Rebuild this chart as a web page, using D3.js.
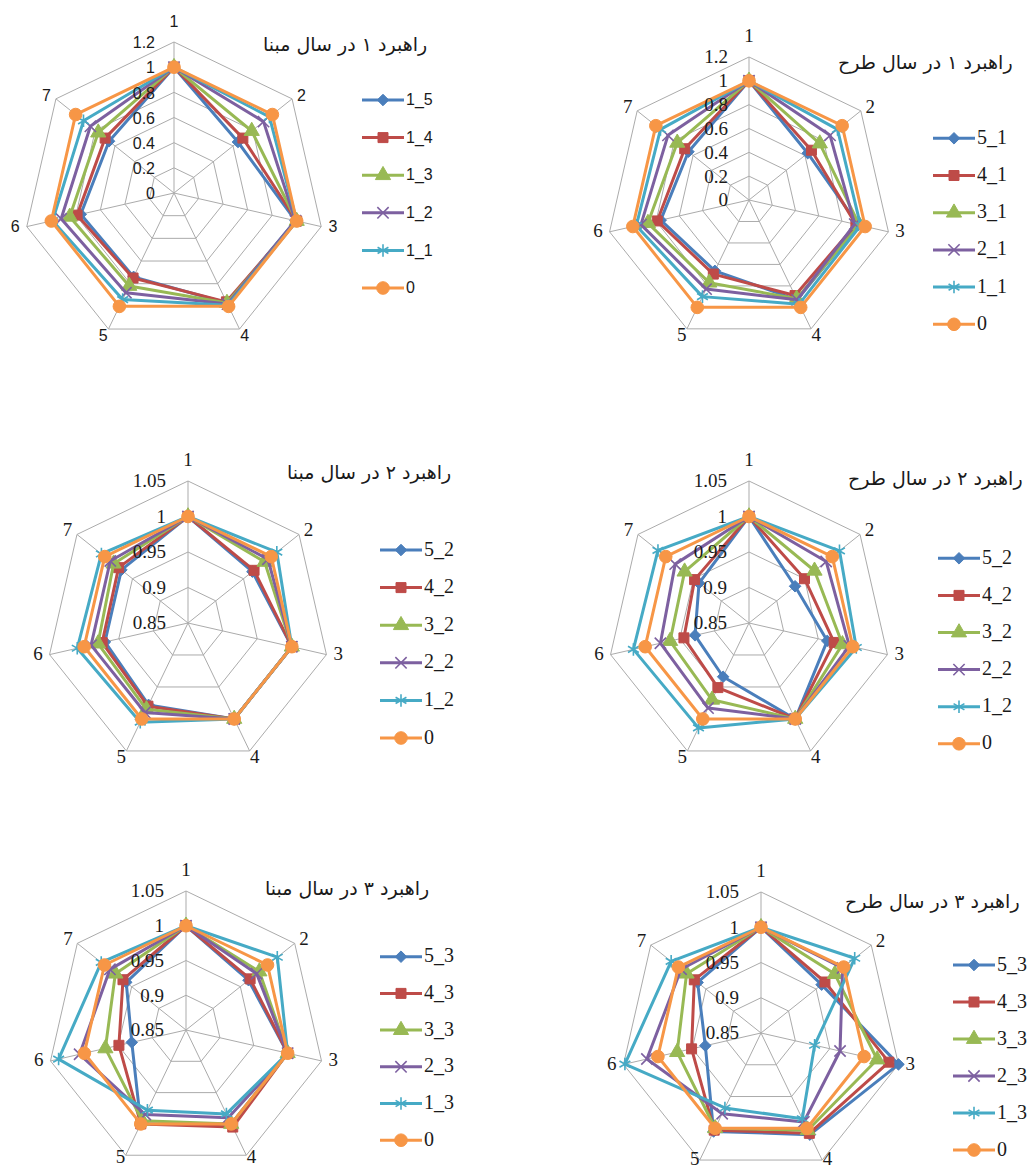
<!DOCTYPE html>
<html>
<head>
<meta charset="utf-8">
<script src="https://cdn.jsdelivr.net/npm/d3@7"></script>
<style>
  body { margin: 0; background: #ffffff; }
  svg { display: block; }
</style>
</head>
<body>
<svg id="fig" width="1036" height="1171"></svg>
<script>
// ---- data ----------------------------------------------------------------
const axisLabels = ["1", "2", "3", "4", "5", "6", "7"];

const ticksWide = [0, 0.2, 0.4, 0.6, 0.8, 1, 1.2];
const tickTextWide = ["0", "0.2", "0.4", "0.6", "0.8", "1", "1.2"];
const ticksNarrow = [0.85, 0.9, 0.95, 1, 1.05];
const tickTextNarrow = ["0.85", "0.9", "0.95", "1", "1.05"];

const titles = [
  "راهبرد ۱ در سال مبنا",
  "راهبرد ۱ در سال طرح",
  "راهبرد ۲ در سال مبنا",
  "راهبرد ۲ در سال طرح",
  "راهبرد ۳ در سال مبنا",
  "راهبرد ۳ در سال طرح"
];

const names1a = ["1_5", "1_4", "1_3", "1_2", "1_1", "0"];
const names1b = ["5_1", "4_1", "3_1", "2_1", "1_1", "0"];
const names2 = ["5_2", "4_2", "3_2", "2_2", "1_2", "0"];
const names3 = ["5_3", "4_3", "3_3", "2_3", "1_3", "0"];

// strategy 1, base year (rows: 5, 4, 3, 2, 1, 0)
const values1a = [
  [1.00, 0.65, 0.99, 0.97, 0.74, 0.76, 0.66],
  [1.00, 0.70, 1.00, 0.96, 0.75, 0.79, 0.70],
  [1.00, 0.79, 1.00, 0.97, 0.82, 0.85, 0.77],
  [1.00, 0.91, 0.99, 0.98, 0.88, 0.92, 0.85],
  [1.00, 0.97, 1.00, 0.99, 0.94, 0.99, 0.92],
  [1.00, 1.00, 1.00, 1.00, 1.00, 1.00, 1.00]
];
// strategy 1, plan year
const values1b = [
  [1.00, 0.63, 0.94, 0.93, 0.66, 0.76, 0.65],
  [1.00, 0.67, 0.92, 0.89, 0.69, 0.79, 0.69],
  [1.00, 0.76, 0.95, 0.92, 0.77, 0.87, 0.77],
  [1.00, 0.87, 0.91, 0.93, 0.83, 0.93, 0.87],
  [1.00, 0.95, 0.96, 0.97, 0.90, 0.97, 0.95],
  [1.00, 1.00, 1.00, 1.00, 1.00, 1.00, 1.00]
];
// strategy 2, base year
const values2a = [
  [1.000, 0.966, 1.000, 1.000, 0.978, 0.970, 0.970],
  [1.000, 0.969, 1.000, 1.000, 0.980, 0.974, 0.975],
  [1.000, 0.988, 1.000, 1.000, 0.985, 0.980, 0.984],
  [1.000, 0.994, 1.000, 1.000, 0.990, 0.990, 0.990],
  [1.000, 1.010, 1.000, 1.000, 1.005, 1.010, 1.006],
  [1.000, 1.000, 1.000, 1.000, 1.000, 1.000, 1.000]
];
// strategy 2, plan year
const values2b = [
  [1.000, 0.933, 0.963, 1.000, 0.934, 0.928, 0.940],
  [1.000, 0.950, 0.973, 1.000, 0.951, 0.944, 0.948],
  [1.000, 0.968, 0.985, 1.000, 0.970, 0.964, 0.966],
  [1.000, 0.989, 0.995, 1.000, 0.983, 0.978, 0.983],
  [1.000, 1.013, 1.005, 1.000, 1.014, 1.017, 1.014],
  [1.000, 1.000, 1.000, 1.000, 1.000, 1.000, 1.000]
];
// strategy 3, base year
const values3a = [
  [1.000, 0.965, 1.000, 1.000, 1.000, 0.930, 0.960],
  [1.000, 0.968, 1.000, 1.005, 1.000, 0.949, 0.966],
  [1.000, 0.985, 1.000, 1.000, 0.995, 0.969, 0.980],
  [1.000, 0.980, 1.000, 0.990, 0.985, 1.007, 0.990],
  [1.000, 1.018, 1.000, 0.984, 0.978, 1.038, 1.006],
  [1.000, 1.000, 1.000, 1.000, 1.000, 1.000, 1.000]
];
// strategy 3, plan year
const values3b = [
  [1.000, 0.960, 1.050, 1.010, 1.005, 0.931, 0.965],
  [1.000, 0.966, 1.036, 1.008, 1.003, 0.951, 0.971],
  [1.000, 0.984, 1.019, 1.003, 1.000, 0.972, 0.985],
  [1.000, 0.998, 0.965, 0.990, 0.977, 1.016, 0.995],
  [1.000, 1.020, 0.928, 0.985, 0.968, 1.048, 1.013],
  [1.000, 1.000, 1.000, 1.000, 1.000, 1.000, 1.000]
];

// ---- styling ---------------------------------------------------------------
const seriesColors = ["#4A7EBB", "#BE4B48", "#98B954", "#7D60A0", "#46AAC5", "#F79646"];
const seriesSymbols = [d3.symbolDiamond2, d3.symbolSquare, d3.symbolTriangle,
                       d3.symbolTimes, d3.symbolAsterisk, d3.symbolCircle];
const symbolSizes = [85, 100, 100, 85, 110, 125];
const strokedSymbol = [false, false, false, true, true, false];
const gridColor = "#ABABAB";
const textColor = "#1a1a1a";
const SANS = "'Liberation Sans', Arial, sans-serif";
const SERIF = "'Liberation Serif', 'Times New Roman', serif";
const PERSIAN = "'DejaVu Sans', sans-serif";

const panels = [
  { cx: 174, cy: 193, r: 151, domain: [0, 1.2], ticks: ticksWide, tickText: tickTextWide,
    font: SANS, fsCat: 16, fsTick: 16, fsLeg: 16, tickDx: -19, bottomDy: 8,
    title: titles[0], titleX: 263, titleY: 45,
    legX: 362, legY: 100, legStep: 37.6, names: names1a, values: values1a },
  { cx: 749, cy: 200, r: 143, domain: [0, 1.2], ticks: ticksWide, tickText: tickTextWide,
    font: SERIF, fsCat: 19, fsTick: 19, fsLeg: 20, tickDx: -21, bottomDy: 8,
    title: titles[1], titleX: 838, titleY: 63,
    legX: 933, legY: 138.3, legStep: 37.2, names: names1b, values: values1b },
  { cx: 188, cy: 623, r: 142, domain: [0.85, 1.05], ticks: ticksNarrow, tickText: tickTextNarrow,
    font: SERIF, fsCat: 19, fsTick: 19, fsLeg: 20, tickDx: -22, bottomDy: 8,
    title: titles[2], titleX: 287, titleY: 473,
    legX: 380, legY: 550, legStep: 37.6, names: names2, values: values2a },
  { cx: 749, cy: 623, r: 142, domain: [0.85, 1.05], ticks: ticksNarrow, tickText: tickTextNarrow,
    font: SERIF, fsCat: 19, fsTick: 19, fsLeg: 20, tickDx: -22, bottomDy: 8,
    title: titles[3], titleX: 848, titleY: 479,
    legX: 938, legY: 558.3, legStep: 37.1, names: names2, values: values2b },
  { cx: 186, cy: 1030, r: 139, domain: [0.85, 1.05], ticks: ticksNarrow, tickText: tickTextNarrow,
    font: SERIF, fsCat: 19, fsTick: 19, fsLeg: 20, tickDx: -22, bottomDy: 3,
    title: titles[4], titleX: 265, titleY: 889,
    legX: 380, legY: 956.7, legStep: 36.7, names: names3, values: values3a },
  { cx: 761, cy: 1033, r: 141, domain: [0.85, 1.05], ticks: ticksNarrow, tickText: tickTextNarrow,
    font: SERIF, fsCat: 19, fsTick: 19, fsLeg: 20, tickDx: -22, bottomDy: 1,
    title: titles[5], titleX: 845, titleY: 902,
    legX: 953, legY: 965, legStep: 37, names: names3, values: values3b }
];

// ---- drawing ---------------------------------------------------------------
const svg = d3.select("#fig");
svg.append("rect").attr("width", 1036).attr("height", 1171).attr("fill", "#fff");

const n = axisLabels.length;
const angle = d3.scaleLinear().domain([0, n]).range([0, 2 * Math.PI]);

function drawMarker(g, k, x, y) {
  const path = d3.symbol().type(seriesSymbols[k]).size(symbolSizes[k])();
  const m = g.append("path").attr("d", path).attr("transform", `translate(${x},${y})`);
  if (strokedSymbol[k]) {
    m.attr("fill", "none").attr("stroke", seriesColors[k]).attr("stroke-width", 1.6);
  } else {
    m.attr("fill", seriesColors[k]).attr("stroke", seriesColors[k]).attr("stroke-width", 1);
  }
}

panels.forEach(p => {
  const g = svg.append("g").attr("transform", `translate(${p.cx},${p.cy})`);
  const rScale = d3.scaleLinear().domain(p.domain).range([0, p.r]);
  const pt = (i, v) => {
    const a = angle(i);
    return [Math.sin(a) * rScale(v), -Math.cos(a) * rScale(v)];
  };

  // rings
  const ring = d3.line();
  p.ticks.forEach(t => {
    if (rScale(t) <= 0) return;
    const pts = d3.range(n).map(i => pt(i, t));
    g.append("path").attr("d", ring(pts) + "Z")
      .attr("fill", "none").attr("stroke", gridColor).attr("stroke-width", 1);
  });
  // spokes
  d3.range(n).forEach(i => {
    const [x, y] = pt(i, p.domain[1]);
    g.append("line").attr("x1", 0).attr("y1", 0).attr("x2", x).attr("y2", y)
      .attr("stroke", gridColor).attr("stroke-width", 1);
  });

  // series, drawn 5 → 0 so the baseline sits on top
  const lineGen = d3.line().curve(d3.curveLinearClosed);
  p.values.forEach((row, k) => {
    const pts = row.map((v, i) => pt(i, v));
    g.append("path").attr("d", lineGen(pts))
      .attr("fill", "none").attr("stroke", seriesColors[k])
      .attr("stroke-width", 3).attr("stroke-linejoin", "round");
    pts.forEach(([x, y]) => drawMarker(g, k, x, y));
  });

  // tick labels
  p.ticks.forEach((t, j) => {
    g.append("text").attr("x", p.tickDx).attr("y", -rScale(t) + 2)
      .attr("text-anchor", "end").attr("dominant-baseline", "middle")
      .attr("font-family", p.font).attr("font-size", p.fsTick).attr("fill", textColor)
      .text(p.tickText[j]);
  });

  // category labels
  axisLabels.forEach((lab, i) => {
    const a = angle(i);
    const s = Math.sin(a), c = Math.cos(a);
    const [vx, vy] = pt(i, p.domain[1]);
    const dx = s * 12;
    const dy = c > 0.99 ? -19 : (c < -0.5 ? p.bottomDy : -c * 4);
    g.append("text").attr("x", vx + dx).attr("y", vy + dy)
      .attr("text-anchor", "middle").attr("dominant-baseline", "middle")
      .attr("font-family", p.font).attr("font-size", p.fsCat).attr("fill", textColor)
      .text(lab);
  });

  // title
  svg.append("text").attr("x", p.titleX).attr("y", p.titleY)
    .attr("text-anchor", "start").attr("dominant-baseline", "middle")
    .attr("font-family", PERSIAN).attr("font-size", 19).attr("fill", textColor)
    .text(p.title);

  // legend
  const lg = svg.append("g");
  p.names.forEach((name, k) => {
    const y = p.legY + k * p.legStep;
    lg.append("line").attr("x1", p.legX).attr("x2", p.legX + 42)
      .attr("y1", y).attr("y2", y)
      .attr("stroke", seriesColors[k]).attr("stroke-width", 3);
    drawMarker(lg, k, p.legX + 21, y);
    lg.append("text").attr("x", p.legX + 44).attr("y", y + 1)
      .attr("dominant-baseline", "middle")
      .attr("font-family", p.font).attr("font-size", p.fsLeg).attr("fill", textColor)
      .text(name);
  });
});
</script>
</body>
</html>
